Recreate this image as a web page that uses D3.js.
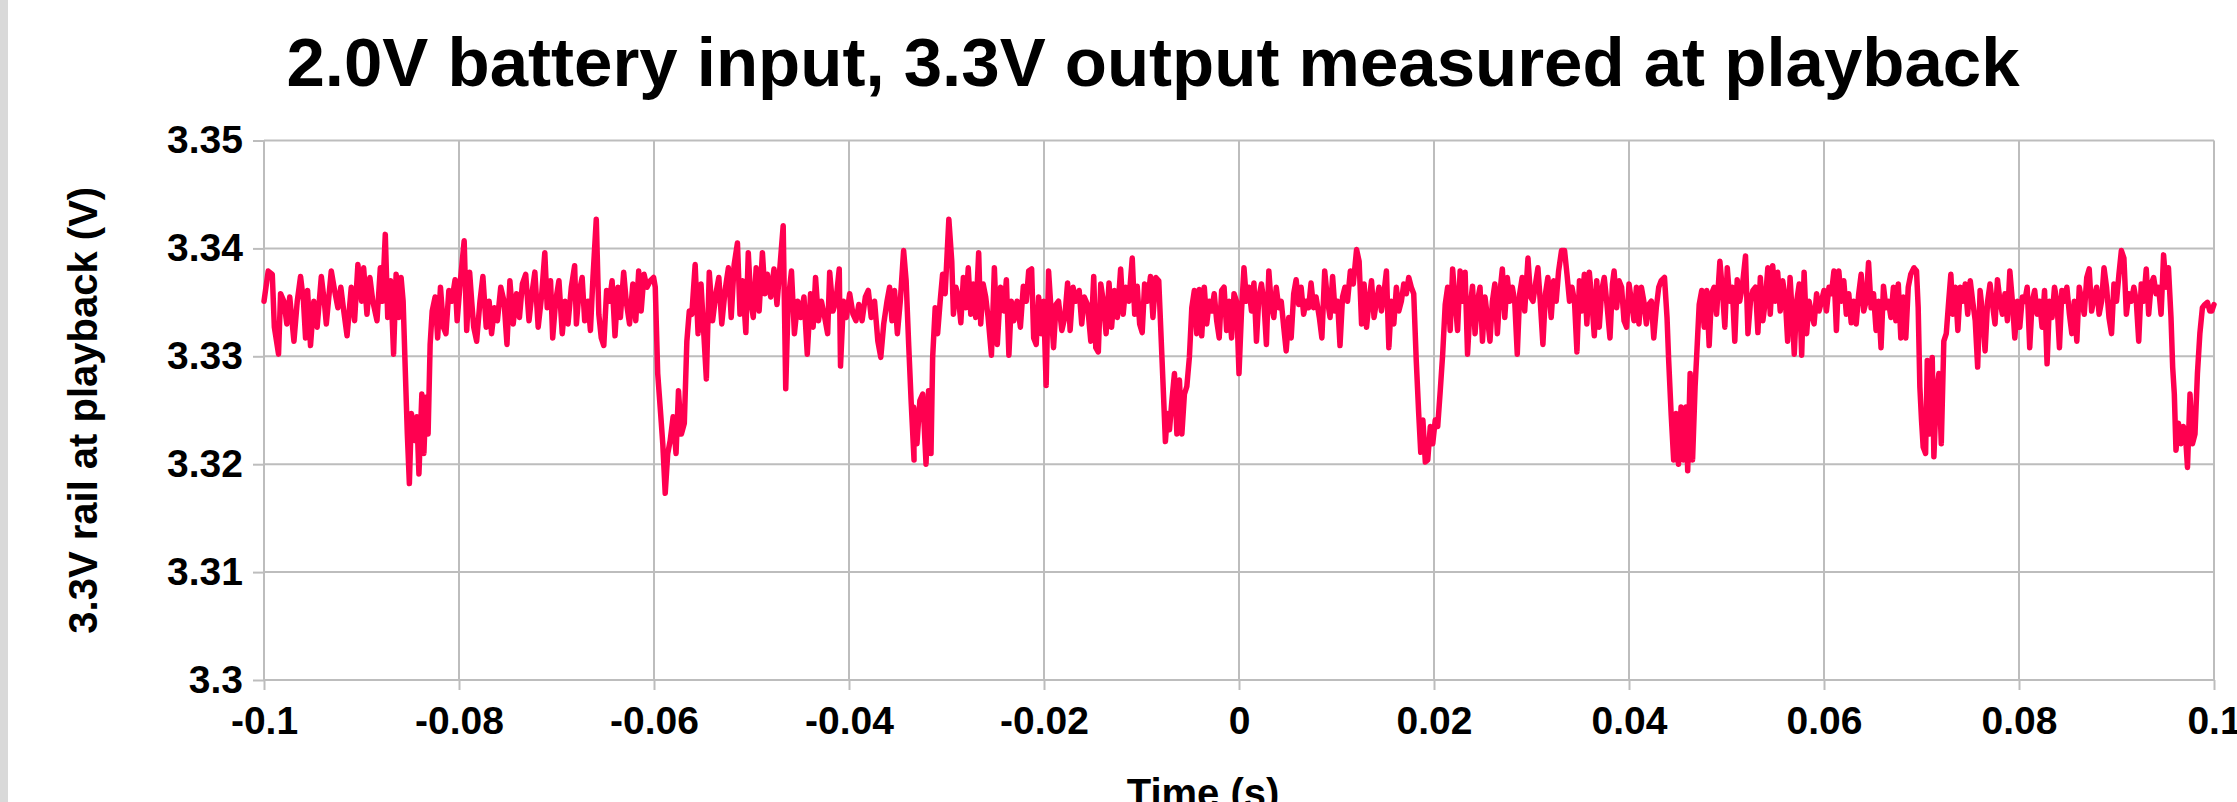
<!DOCTYPE html>
<html>
<head>
<meta charset="utf-8">
<script src="https://cdn.jsdelivr.net/npm/d3@7"></script>
<style>
  html, body { margin: 0; padding: 0; background: #fff; }
  svg { display: block; font-family: "Liberation Sans", Arial, sans-serif; font-weight: bold; }
</style>
</head>
<body>
<div id="chart"></div>
<script>
// Scope trace in three stretches (time in ms, rail in volts)
const timeMs1 = [
  -100.00,-99.57,-99.15,-98.94,-98.51,-98.30,-97.96,-97.66,-97.36,-96.93,
  -96.59,-96.25,-95.95,-95.74,-95.53,-95.23,-94.89,-94.55,-94.12,-93.82,
  -93.61,-93.10,-92.76,-92.42,-92.12,-91.82,-91.48,-91.05,-90.71,-90.37,
  -89.99,-89.78,-89.44,-89.14,-88.84,-88.41,-88.07,-87.86,-87.56,-87.31,
  -87.01,-86.71,-86.45,-86.16,-85.94,-85.73,-85.52,-85.30,-85.09,-84.88,
  -84.58,-84.32,-84.11,-83.81,-83.60,-83.39,-83.17,-82.96,-82.75,-82.45,
  -82.19,-81.90,-81.60,-81.34,-81.04,-80.74,-80.40,-80.19,-79.89,-79.47,
  -79.21,-78.91,-78.70,-78.49,-78.19,-77.85,-77.55,-77.21,-76.91,-76.66,
  -76.36,-76.06,-75.72,-75.38,-75.08,-74.78,-74.44,-74.10,-73.80,-73.50,
  -73.16,-72.82,-72.52,-72.22,-71.88,-71.54,-71.20,-70.95,-70.61,-70.39,
  -70.09,-69.75,-69.41,-69.12,-68.82,-68.48,-68.14,-67.96,-67.71,-67.37,
  -67.11,-66.77,-66.52,-66.26,-65.92,-65.66,-65.41,-65.15,-64.86,-64.56,
  -64.30,-64.00,-63.70,-63.45,-63.11,-62.85,-62.51,-62.17,-61.87,-61.57,
  -61.32,-61.02,-60.72,-60.38,-60.04,-59.87,-59.62,-59.32,-59.10,-58.85,
  -58.59,-58.34,-58.04,-57.74,-57.49,-57.19,-56.89,-56.63,-56.38,-56.12,
  -55.78,-55.48,-55.18,-54.93,-54.63,-54.33,-53.99,-53.65,-53.35,-53.05,
  -52.71,-52.37,-52.08,-51.78,-51.44,-51.18,-50.92,-50.58,-50.33,-50.07,
  -49.82,-49.52,-49.22,-48.88,-48.62,-48.37,-48.03,-47.69,-47.39,-47.09,
  -46.75,-46.49,-46.24,-45.90,-45.60,-45.26,-44.96,-44.62,-44.28,-43.94,
  -43.68,-43.43,-43.13,-42.83,-42.49,-42.19,-41.98,-41.64,-41.34,-41.00,
  -40.87,-40.57,-40.27,-39.93,-39.59,-39.29,-38.99,-38.66,-38.32,-38.02,
  -37.72,-37.38,-37.04,-36.74,-36.44,-36.10,-35.84,-35.59,-35.33,-35.04,
  -34.74,-34.40,-34.14,-33.88,-33.63,-33.33
];
const volts1 = [
  3.3351,3.3379,3.3376,3.3327,3.3302,3.3358,3.3351,3.3330,3.3355,3.3314,
  3.3351,3.3374,3.3351,3.3317,3.3361,3.3310,3.3351,3.3327,3.3374,3.3351,
  3.3330,3.3379,3.3361,3.3345,3.3364,3.3342,3.3319,3.3364,3.3333,3.3385,
  3.3351,3.3382,3.3339,3.3373,3.3351,3.3333,3.3382,3.3351,3.3413,3.3336,
  3.3370,3.3302,3.3376,3.3336,3.3373,3.3351,3.3290,3.3228,3.3182,3.3247,
  3.3222,3.3244,3.3191,3.3265,3.3210,3.3262,3.3228,3.3311,3.3342,3.3355,
  3.3317,3.3364,3.3327,3.3321,3.3361,3.3351,3.3371,3.3333,3.3367,3.3407,
  3.3324,3.3378,3.3351,3.3327,3.3314,3.3351,3.3374,3.3327,3.3351,3.3321,
  3.3345,3.3333,3.3364,3.3351,3.3311,3.3370,3.3330,3.3358,3.3336,3.3367,
  3.3376,3.3333,3.3358,3.3378,3.3327,3.3355,3.3396,3.3345,3.3370,3.3317,
  3.3351,3.3370,3.3321,3.3351,3.3330,3.3364,3.3384,3.3330,3.3358,3.3373,
  3.3333,3.3351,3.3324,3.3373,3.3427,3.3339,3.3317,3.3310,3.3361,3.3351,
  3.3370,3.3319,3.3364,3.3336,3.3378,3.3351,3.3330,3.3367,3.3333,3.3379,
  3.3342,3.3376,3.3364,3.3370,3.3373,3.3364,3.3284,3.3247,3.3219,3.3173,
  3.3210,3.3222,3.3244,3.3210,3.3268,3.3228,3.3238,3.3314,3.3342,3.3339,
  3.3385,3.3321,3.3367,3.3327,3.3279,3.3378,3.3333,3.3358,3.3373,3.3330,
  3.3361,3.3382,3.3336,3.3385,3.3405,3.3339,3.3370,3.3322,3.3396,3.3351,
  3.3336,3.3382,3.3342,3.3396,3.3358,3.3376,3.3355,3.3381,3.3348,3.3382,
  3.3421,3.3270,3.3351,3.3379,3.3321,3.3351,3.3336,3.3355,3.3302,3.3358,
  3.3327,3.3373,3.3333,3.3351,3.3336,3.3321,3.3378,3.3342,3.3351,3.3381,
  3.3291,3.3351,3.3336,3.3358,3.3339,3.3333,3.3348,3.3333,3.3355,3.3361,
  3.3336,3.3351,3.3314,3.3299,3.3330,3.3351,3.3364,3.3333,3.3361,3.3321,
  3.3351,3.3398,3.3370,3.3311,3.3259,3.3204
];

const timeMs2 = [
  -33.37,-33.03,-32.73,-32.44,-32.10,-31.84,-31.59,-31.42,-31.16,-30.91,
  -30.65,-30.40,-30.14,-29.76,-29.46,-29.29,-29.04,-28.78,-28.53,-28.27,
  -28.02,-27.77,-27.51,-27.26,-27.00,-26.70,-26.49,-26.24,-25.98,-25.73,
  -25.39,-25.09,-24.79,-24.45,-24.11,-23.86,-23.60,-23.35,-23.10,-22.76,
  -22.42,-22.12,-21.82,-21.57,-21.27,-21.06,-20.80,-20.55,-20.29,-20.04,
  -19.78,-19.53,-19.27,-19.02,-18.76,-18.51,-18.17,-17.87,-17.58,-17.32,
  -17.02,-16.73,-16.39,-16.13,-15.88,-15.54,-15.20,-14.90,-14.69,-14.43,
  -14.18,-13.92,-13.63,-13.33,-13.07,-12.78,-12.48,-12.14,-11.88,-11.63,
  -11.29,-10.95,-10.70,-10.44,-10.19,-9.93,-9.68,-9.38,-9.08,-8.83,
  -8.53,-8.23,-8.06,-7.89,-7.72,-7.55,-7.34,-7.13,-6.88,-6.62,
  -6.37,-6.11,-5.86,-5.60,-5.35,-5.09,-4.84,-4.58,-4.33,-4.07,
  -3.82,-3.56,-3.31,-3.05,-2.80,-2.54,-2.29,-2.03,-1.78,-1.53,
  -1.27,-1.02,-0.76,-0.51,-0.25,0.00,0.26,0.51,0.77,1.02,
  1.28,1.53,1.79,2.04,2.30,2.55,2.81,3.06,3.31,3.57,
  3.82,4.08,4.33,4.59,4.84,5.10,5.35,5.61,5.86,6.12,
  6.37,6.63,6.88,7.14,7.39,7.65,7.90,8.24,8.50,8.79,
  9.09,9.34,9.60,9.85,10.11,10.36,10.62,10.87,11.13,11.42,
  11.72,12.06,12.32,12.57,12.83,13.08,13.34,13.59,13.85,14.10,
  14.36,14.61,14.86,15.12,15.37,15.63,15.88,16.14,16.39,16.65,
  16.90,17.16,17.41,17.67,17.92,18.18,18.43,18.64,18.86,19.11,
  19.36,19.62,19.87,20.13,20.38,20.64,20.89,21.15,21.40,21.66,
  21.91,22.17,22.42,22.68,22.93,23.19,23.44,23.70,23.95,24.21,
  24.46,24.72,24.97,25.23,25.48,25.74,25.99,26.24,26.50,26.75,
  27.01,27.26,27.52,27.77,28.03,28.28,28.54,28.79,29.05,29.30,
  29.64,29.90,30.15,30.41,30.66,30.92,31.17,31.43,31.68,32.02,
  32.27,32.53,32.78,33.08
];
const volts2 = [
  3.3253,3.3219,3.3259,3.3265,3.3200,3.3268,3.3210,3.3299,3.3345,3.3321,
  3.3351,3.3376,3.3358,3.3427,3.3388,3.3339,3.3364,3.3355,3.3331,3.3373,
  3.3345,3.3382,3.3339,3.3367,3.3336,3.3396,3.3330,3.3367,3.3355,3.3336,
  3.3301,3.3382,3.3311,3.3364,3.3342,3.3371,3.3301,3.3351,3.3333,3.3351,
  3.3327,3.3365,3.3351,3.3379,3.3381,3.3317,3.3311,3.3355,3.3321,3.3351,
  3.3273,3.3379,3.3342,3.3308,3.3348,3.3351,3.3324,3.3336,3.3368,3.3324,
  3.3364,3.3351,3.3361,3.3330,3.3355,3.3348,3.3314,3.3374,3.3308,3.3304,
  3.3367,3.3351,3.3321,3.3368,3.3327,3.3361,3.3336,3.3381,3.3339,3.3364,
  3.3351,3.3391,3.3339,3.3365,3.3330,3.3322,3.3367,3.3351,3.3374,3.3336,
  3.3373,3.3370,3.3333,3.3296,3.3259,3.3221,3.3247,3.3232,3.3259,3.3284,
  3.3228,3.3278,3.3228,3.3265,3.3272,3.3299,3.3345,3.3361,3.3321,3.3362,
  3.3319,3.3364,3.3330,3.3351,3.3342,3.3358,3.3333,3.3317,3.3361,3.3364,
  3.3324,3.3351,3.3317,3.3358,3.3351,3.3284,3.3342,3.3382,3.3351,3.3364,
  3.3342,3.3368,3.3314,3.3355,3.3367,3.3351,3.3311,3.3379,3.3348,3.3336,
  3.3364,3.3345,3.3351,3.3327,3.3305,3.3336,3.3317,3.3358,3.3371,3.3348,
  3.3364,3.3339,3.3351,3.3345,3.3368,3.3345,3.3355,3.3336,3.3317,3.3379,
  3.3351,3.3336,3.3374,3.3342,3.3351,3.3310,3.3355,3.3364,3.3351,3.3379,
  3.3367,3.3399,3.3388,3.3330,3.3367,3.3327,3.3351,3.3370,3.3336,3.3351,
  3.3364,3.3342,3.3358,3.3379,3.3308,3.3351,3.3330,3.3364,3.3342,3.3351,
  3.3367,3.3358,3.3373,3.3364,3.3358,3.3296,3.3247,3.3211,3.3241,3.3202,
  3.3204,3.3235,3.3219,3.3241,3.3235,3.3268,3.3302,3.3348,3.3364,3.3324,
  3.3381,3.3351,3.3324,3.3379,3.3351,3.3378,3.3302,3.3345,3.3365,3.3321,
  3.3351,3.3364,3.3314,3.3355,3.3336,3.3314,3.3351,3.3367,3.3321,3.3358,
  3.3381,3.3336,3.3373,3.3351,3.3364,3.3351,3.3302,3.3358,3.3373,3.3342,
  3.3391,3.3355,3.3351,3.3367,3.3382,3.3348,3.3311,3.3358,3.3373,3.3336,
  3.3370,3.3351,3.3379,3.3398
];

const timeMs3 = [
  33.39,33.64,33.90,34.15,34.41,34.66,34.92,35.17,35.42,35.68,
  35.93,36.19,36.44,36.69,36.95,37.20,37.46,37.71,38.05,38.30,
  38.47,38.73,38.98,39.24,39.49,39.75,40.00,40.25,40.51,40.76,
  41.02,41.27,41.52,41.78,42.03,42.29,42.54,42.80,43.05,43.30,
  43.64,43.90,44.07,44.32,44.58,44.83,45.08,45.34,45.59,45.85,
  46.02,46.27,46.52,46.78,46.95,47.20,47.46,47.71,47.97,48.22,
  48.47,48.73,48.98,49.32,49.58,49.83,50.08,50.34,50.59,50.85,
  51.10,51.35,51.61,51.95,52.20,52.46,52.71,52.97,53.22,53.47,
  53.73,53.98,54.24,54.49,54.74,55.00,55.25,55.51,55.76,56.02,
  56.27,56.52,56.78,56.95,57.20,57.46,57.71,57.96,58.22,58.47,
  58.73,58.98,59.24,59.49,59.74,60.00,60.25,60.51,60.76,61.02,
  61.27,61.52,61.78,62.03,62.29,62.54,62.79,63.05,63.30,63.56,
  63.81,64.07,64.32,64.57,64.83,65.08,65.34,65.59,65.85,66.10,
  66.35,66.61,66.86,67.12,67.37,67.62,67.88,68.13,68.39,68.64,
  68.90,69.23,69.49,69.66,69.83,70.00,70.17,70.42,70.59,70.85,
  71.10,71.27,71.52,71.78,72.03,72.29,72.54,72.79,73.01,73.22,
  73.47,73.73,73.98,74.23,74.49,74.74,75.00,75.25,75.51,75.76,
  76.01,76.27,76.52,76.78,77.03,77.28,77.54,77.79,78.05,78.30,
  78.56,78.81,79.06,79.32,79.57,79.83,80.08,80.34,80.59,80.84,
  81.10,81.35,81.61,81.86,82.11,82.37,82.62,82.88,83.13,83.39,
  83.64,83.89,84.15,84.40,84.66,84.91,85.17,85.42,85.67,85.93,
  86.18,86.44,86.69,86.95,87.20,87.45,87.71,87.96,88.22,88.47,
  88.72,88.98,89.23,89.49,89.74,90.00,90.25,90.50,90.76,91.01,
  91.27,91.52,91.78,92.03,92.28,92.54,92.79,93.05,93.30,93.56,
  93.81,94.06,94.32,94.57,94.83,95.08,95.33,95.59,95.76,95.93,
  96.10,96.35,96.61,96.86,97.11,97.28,97.54,97.79,98.05,98.30,
  98.55,98.81,99.06,99.32,99.57,99.78,100.00
];
const volts3 = [
  3.3398,3.3376,3.3351,3.3364,3.3351,3.3304,3.3370,3.3342,3.3376,3.3330,
  3.3378,3.3351,3.3319,3.3370,3.3327,3.3361,3.3373,3.3351,3.3317,3.3367,
  3.3379,3.3345,3.3370,3.3364,3.3333,3.3327,3.3367,3.3351,3.3333,3.3364,
  3.3330,3.3364,3.3351,3.3330,3.3348,3.3351,3.3317,3.3345,3.3364,3.3370,
  3.3373,3.3336,3.3296,3.3247,3.3204,3.3247,3.3200,3.3253,3.3204,3.3253,
  3.3194,3.3284,3.3204,3.3272,3.3302,3.3348,3.3361,3.3327,3.3361,3.3310,
  3.3358,3.3364,3.3339,3.3388,3.3361,3.3327,3.3382,3.3351,3.3364,3.3314,
  3.3371,3.3351,3.3364,3.3393,3.3321,3.3351,3.3361,3.3364,3.3322,3.3373,
  3.3333,3.3351,3.3382,3.3339,3.3384,3.3351,3.3378,3.3342,3.3370,3.3355,
  3.3314,3.3373,3.3333,3.3302,3.3351,3.3367,3.3301,3.3378,3.3321,3.3351,
  3.3339,3.3330,3.3358,3.3342,3.3351,3.3361,3.3342,3.3364,3.3358,3.3379,
  3.3324,3.3379,3.3351,3.3370,3.3339,3.3358,3.3331,3.3351,3.3330,3.3358,
  3.3376,3.3342,3.3351,3.3387,3.3345,3.3358,3.3324,3.3351,3.3308,3.3365,
  3.3345,3.3351,3.3336,3.3364,3.3333,3.3367,3.3317,3.3355,3.3317,3.3364,
  3.3376,3.3382,3.3379,3.3345,3.3272,3.3241,3.3216,3.3210,3.3296,3.3228,
  3.3299,3.3207,3.3265,3.3284,3.3219,3.3314,3.3321,3.3351,3.3376,3.3339,
  3.3364,3.3324,3.3364,3.3351,3.3367,3.3339,3.3370,3.3351,3.3333,3.3290,
  3.3361,3.3339,3.3305,3.3351,3.3367,3.3348,3.3330,3.3371,3.3351,3.3339,
  3.3358,3.3333,3.3379,3.3351,3.3317,3.3351,3.3327,3.3355,3.3351,3.3364,
  3.3308,3.3351,3.3361,3.3339,3.3351,3.3327,3.3361,3.3293,3.3351,3.3336,
  3.3364,3.3351,3.3308,3.3361,3.3351,3.3364,3.3339,3.3321,3.3351,3.3314,
  3.3364,3.3351,3.3339,3.3373,3.3381,3.3342,3.3355,3.3364,3.3339,3.3351,
  3.3382,3.3364,3.3336,3.3321,3.3367,3.3351,3.3376,3.3398,3.3391,3.3339,
  3.3358,3.3351,3.3364,3.3351,3.3314,3.3367,3.3351,3.3381,3.3339,3.3367,
  3.3373,3.3358,3.3364,3.3339,3.3394,3.3364,3.3382,3.3336,3.3290,3.3265,
  3.3213,3.3238,3.3219,3.3235,3.3222,3.3197,3.3265,3.3219,3.3228,3.3284,
  3.3321,3.3345,3.3348,3.3350,3.3342,3.3342,3.3348
];

const xTicksMs = [-100, -80, -60, -40, -20, 0, 20, 40, 60, 80, 100];
const xTickLabels = ["-0.1", "-0.08", "-0.06", "-0.04", "-0.02", "0", "0.02", "0.04", "0.06", "0.08", "0.1"];
const yTicks = [3.3, 3.31, 3.32, 3.33, 3.34, 3.35];
const yTickLabels = ["3.3", "3.31", "3.32", "3.33", "3.34", "3.35"];

const title = "2.0V battery input, 3.3V output measured at playback";
const xTitle = "Time (s)";
const yTitle = "3.3V rail at playback (V)";

const W = 2237, H = 802;
const plot = {left: 264, right: 2214, top: 140.5, bottom: 680};
const gridColor = "#bdbdbd";
const lineColor = "#ff0050";

const points = [
  ...d3.zip(timeMs1, volts1),
  ...d3.zip(timeMs2, volts2),
  ...d3.zip(timeMs3, volts3)
];

const x = d3.scaleLinear().domain([-100, 100]).range([plot.left, plot.right]);
const y = d3.scaleLinear().domain([3.3, 3.35]).range([plot.bottom, plot.top]);

const svg = d3.select("#chart").append("svg")
    .attr("width", W)
    .attr("height", H);

svg.append("rect").attr("width", W).attr("height", H).attr("fill", "#fff");
// grey strip on the left edge
svg.append("rect").attr("x", 0).attr("y", 0).attr("width", 8).attr("height", H).attr("fill", "#d9d9d9");

// grid
const grid = svg.append("g").attr("stroke", gridColor).attr("stroke-width", 2);
grid.selectAll(".gx").data(xTicksMs).join("line")
    .attr("x1", d => x(d)).attr("x2", d => x(d))
    .attr("y1", plot.top).attr("y2", plot.bottom);
grid.selectAll(".gy").data(yTicks).join("line")
    .attr("x1", plot.left).attr("x2", plot.right)
    .attr("y1", d => y(d)).attr("y2", d => y(d));

// axes
const xAxis = d3.axisBottom(x)
    .tickValues(xTicksMs)
    .tickFormat((d, i) => xTickLabels[i])
    .tickSize(10)
    .tickPadding(16);
const yAxis = d3.axisLeft(y)
    .tickValues(yTicks)
    .tickFormat((d, i) => yTickLabels[i])
    .tickSize(11)
    .tickPadding(10);

const gx = svg.append("g").attr("transform", `translate(0,${plot.bottom})`).call(xAxis);
const gy = svg.append("g").attr("transform", `translate(${plot.left},0)`).call(yAxis);
for (const g of [gx, gy]) {
    g.select(".domain").remove();
    g.selectAll(".tick line").attr("stroke", gridColor).attr("stroke-width", 2);
    g.selectAll(".tick text")
        .attr("fill", "#000")
        .style("font-family", "'Liberation Sans', Arial, sans-serif")
        .style("font-weight", "bold")
        .style("font-size", "39px");
}

// the trace
svg.append("path")
    .datum(points)
    .attr("fill", "none")
    .attr("stroke", lineColor)
    .attr("stroke-width", 5.5)
    .attr("stroke-linejoin", "round")
    .attr("stroke-linecap", "round")
    .attr("d", d3.line().x(d => x(d[0])).y(d => y(d[1])));

// titles
svg.append("text")
    .attr("x", 1153).attr("y", 86)
    .attr("text-anchor", "middle")
    .style("font-size", "69px")
    .text(title);

svg.append("text")
    .attr("transform", `translate(97,${(plot.top + plot.bottom) / 2}) rotate(-90)`)
    .attr("text-anchor", "middle")
    .style("font-size", "40px")
    .text(yTitle);

svg.append("text")
    .attr("x", 1203).attr("y", 807)
    .attr("text-anchor", "middle")
    .style("font-size", "40px")
    .text(xTitle);

if (timeMs1.length !== volts1.length || timeMs2.length !== volts2.length || timeMs3.length !== volts3.length) {
    console.error("length mismatch", timeMs1.length, volts1.length, timeMs2.length, volts2.length, timeMs3.length, volts3.length);
}
</script>
</body>
</html>
